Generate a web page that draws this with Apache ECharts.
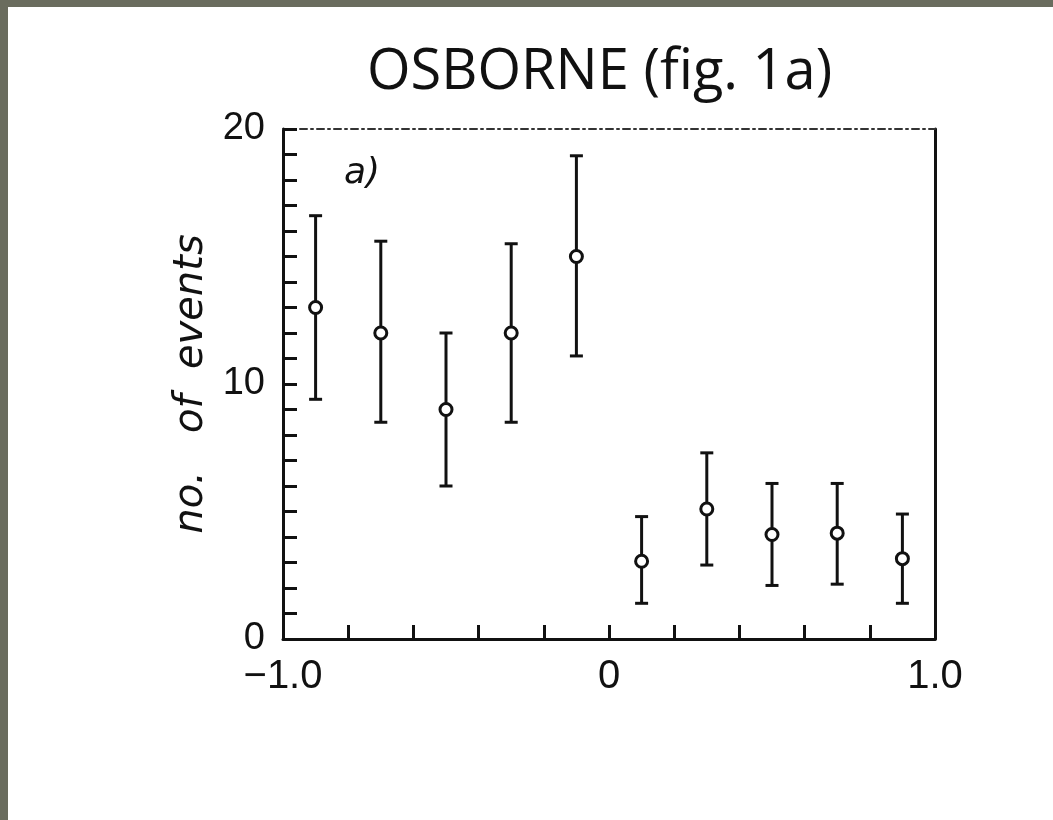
<!DOCTYPE html>
<html>
<head>
<meta charset="utf-8">
<style>
  html, body { margin: 0; padding: 0; background: #ffffff; }
  #chart { width: 1053px; height: 820px; }
</style>
<script src="https://cdn.jsdelivr.net/npm/echarts@6/dist/echarts.min.js"></script>
</head>
<body>
<div id="chart"></div>
<script>
// ---- data ----
const binCenters = [-0.9, -0.7, -0.5, -0.3, -0.1, 0.1, 0.3, 0.5, 0.7, 0.9];
const eventCounts = [13.0, 12.0, 9.0, 12.0, 15.0, 3.05, 5.1, 4.1, 4.15, 3.15];
const errUpper = [16.6, 15.6, 12.0, 15.5, 18.95, 4.8, 7.3, 6.1, 6.1, 4.9];
const errLower = [9.4, 8.5, 6.0, 8.5, 11.1, 1.4, 2.9, 2.1, 2.15, 1.4];
const xLabelValues = [-1, 0, 1];
const xLabelTexts = ['\u22121.0', '0', '1.0'];
const yLabelValues = [0, 10, 20];
const yLabelTexts = ['0', '10', '20'];

const chart = echarts.init(document.getElementById('chart'), null, { renderer: 'canvas' });

function findLabel(v, vals, texts) {
  for (let i = 0; i < vals.length; i++) {
    if (Math.abs(v - vals[i]) < 1e-6) return texts[i];
  }
  return '';
}

const pointData = binCenters.map((x, i) => [x, eventCounts[i]]);
const errData = binCenters.map((x, i) => [x, errLower[i], errUpper[i]]);

const option = {
  backgroundColor: '#ffffff',
  animation: false,
  title: {
    text: 'OSBORNE (fig. 1a)',
    left: 362,
    top: 40,
    textStyle: { fontFamily: 'Open Sans', fontWeight: 'normal', fontSize: 56, color: '#111111' }
  },
  graphic: [
    { type: 'rect', shape: { x: 0, y: 0, width: 8, height: 820 }, style: { fill: '#6a6c5e' }, silent: true },
    { type: 'rect', shape: { x: 0, y: 0, width: 1053, height: 7 }, style: { fill: '#6a6c5e' }, silent: true },
    { type: 'text', left: 344, top: 156, style: { text: 'a)', font: 'italic 36px "DejaVu Sans"', fill: '#111111' } }
  ],
  grid: { left: 283, right: 118, top: 129, bottom: 181 },
  xAxis: [
    {
      type: 'value', min: -1, max: 1, interval: 0.2, position: 'bottom',
      axisLine: { show: true, onZero: false, lineStyle: { color: '#111111', width: 3 } },
      axisTick: { show: true, inside: true, length: 14, lineStyle: { color: '#111111', width: 3 } },
      axisLabel: {
        margin: 18, color: '#111111', fontSize: 40, fontFamily: 'Liberation Sans',
        formatter: v => findLabel(v, xLabelValues, xLabelTexts)
      },
      splitLine: { show: false }
    },
    {
      type: 'value', min: -1, max: 1, position: 'top',
      axisLine: { show: true, onZero: false, lineStyle: { color: '#333333', width: 2, type: [7, 4, 2, 4] } },
      axisTick: { show: false }, axisLabel: { show: false }, splitLine: { show: false }
    }
  ],
  yAxis: [
    {
      type: 'value', min: 0, max: 20, interval: 1, position: 'left',
      name: 'no.   of  events', nameLocation: 'middle', nameGap: 70, nameRotate: 90,
      nameTextStyle: { fontFamily: 'DejaVu Sans', fontStyle: 'italic', fontSize: 40, color: '#111111' },
      axisLine: { show: true, onZero: false, lineStyle: { color: '#111111', width: 3 } },
      axisTick: { show: true, inside: true, length: 14, lineStyle: { color: '#111111', width: 3 } },
      axisLabel: {
        margin: 18, color: '#111111', fontSize: 38, fontFamily: 'Liberation Sans',
        formatter: v => findLabel(v, yLabelValues, yLabelTexts)
      },
      splitLine: { show: false }
    },
    {
      type: 'value', min: 0, max: 20, position: 'right',
      axisLine: { show: true, onZero: false, lineStyle: { color: '#111111', width: 3 } },
      axisTick: { show: false }, axisLabel: { show: false }, splitLine: { show: false }
    }
  ],
  series: [
    {
      type: 'custom',
      xAxisIndex: 0, yAxisIndex: 0,
      data: errData,
      renderItem: function (params, api) {
        const x = api.value(0);
        const lo = api.coord([x, api.value(1)]);
        const hi = api.coord([x, api.value(2)]);
        const cap = 6.5;
        const style = { stroke: '#111111', lineWidth: 3 };
        return {
          type: 'group',
          children: [
            { type: 'line', shape: { x1: lo[0], y1: lo[1], x2: hi[0], y2: hi[1] }, style: style },
            { type: 'line', shape: { x1: lo[0] - cap, y1: lo[1], x2: lo[0] + cap, y2: lo[1] }, style: style },
            { type: 'line', shape: { x1: hi[0] - cap, y1: hi[1], x2: hi[0] + cap, y2: hi[1] }, style: style }
          ]
        };
      },
      z: 2
    },
    {
      type: 'scatter',
      xAxisIndex: 0, yAxisIndex: 0,
      data: pointData,
      symbol: 'circle',
      symbolSize: 12,
      itemStyle: { color: '#ffffff', borderColor: '#111111', borderWidth: 3, opacity: 1 },
      z: 3
    }
  ]
};

chart.setOption(option);
</script>
</body>
</html>
